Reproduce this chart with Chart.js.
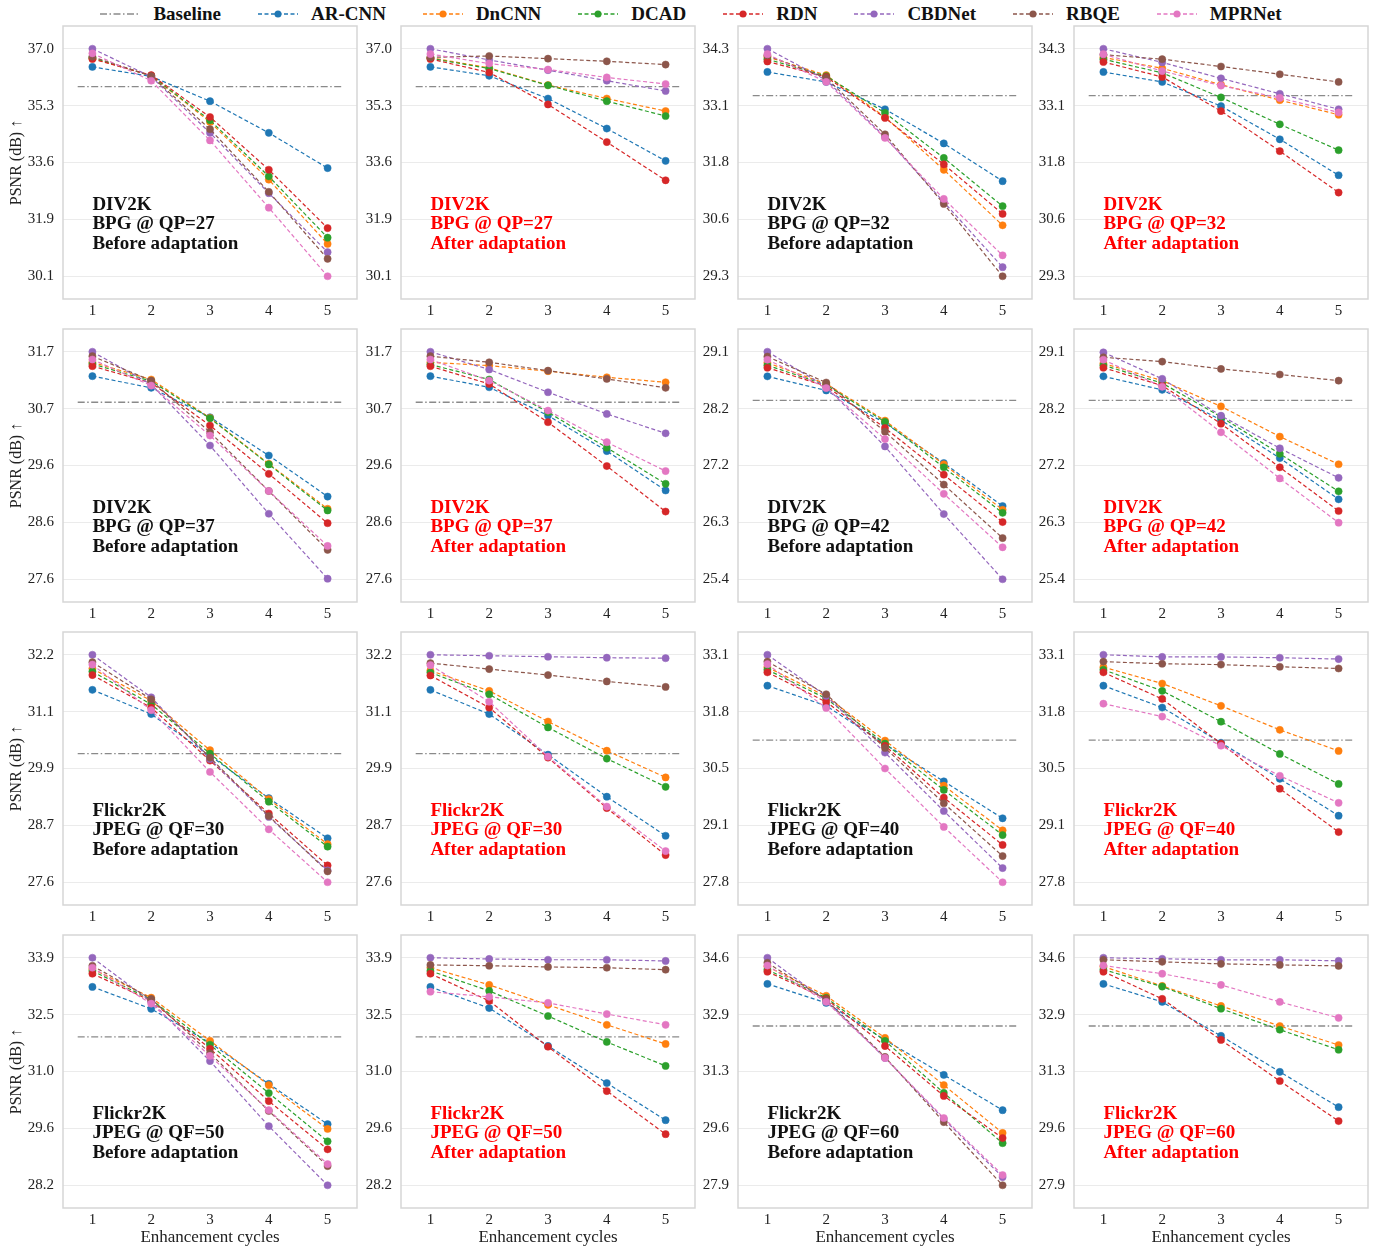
<!DOCTYPE html>
<html>
<head>
<meta charset="utf-8">
<script src="https://cdn.jsdelivr.net/npm/chart.js@4.4.0/dist/chart.umd.min.js"></script>
<style>
  body { margin: 0; background: #fff; }
  #page { position: relative; width: 1382px; height: 1249px; overflow: hidden; }
  canvas { position: absolute; }
  #legend { position: absolute; left: 0; top: 1px; width: 1382px; height: 26px;
            display: flex; justify-content: center; align-items: center;
            font: bold 19px "Liberation Serif", "Times New Roman", serif; color: #111; }
  .item { display: flex; align-items: center; margin: 0 18.5px; }
  .item svg { margin-right: 13px; }
</style>
</head>
<body>
<div id="page"><div id="legend"></div></div>
<script>
// x values and series names
const cycles = [1, 2, 3, 4, 5];
const methods = ['AR-CNN', 'DnCNN', 'DCAD', 'RDN', 'CBDNet', 'RBQE', 'MPRNet'];

// PSNR (dB) per method, rows follow the order of `methods`
const qp27Before = [
  [36.45, 36.16, 35.41, 34.45, 33.38],
  [36.71, 36.18, 34.78, 33.03, 31.08],
  [36.73, 36.18, 34.83, 33.13, 31.27],
  [36.69, 36.20, 34.93, 33.33, 31.56],
  [37.00, 36.15, 34.45, 32.62, 30.83],
  [36.76, 36.17, 34.56, 32.66, 30.63],
  [36.86, 36.03, 34.22, 32.18, 30.10]
];
const qp27After = [
  [36.45, 36.18, 35.49, 34.58, 33.60],
  [36.73, 36.42, 35.90, 35.49, 35.11],
  [36.71, 36.40, 35.89, 35.41, 34.96],
  [36.69, 36.28, 35.31, 34.17, 33.01],
  [37.00, 36.66, 36.35, 36.03, 35.72],
  [36.74, 36.78, 36.70, 36.62, 36.52],
  [36.84, 36.55, 36.37, 36.13, 35.93]
];
const qp32Before = [
  [33.79, 33.57, 32.97, 32.22, 31.39],
  [34.12, 33.72, 32.80, 31.64, 30.42],
  [34.07, 33.70, 32.89, 31.90, 30.84],
  [34.02, 33.68, 32.78, 31.76, 30.67],
  [34.30, 33.61, 32.36, 30.93, 29.50],
  [34.15, 33.66, 32.42, 30.89, 29.30],
  [34.18, 33.57, 32.34, 31.00, 29.76]
];
const qp32After = [
  [33.79, 33.57, 33.04, 32.31, 31.52],
  [34.11, 33.87, 33.51, 33.17, 32.85],
  [34.07, 33.77, 33.23, 32.64, 32.07],
  [34.01, 33.68, 32.93, 32.05, 31.14],
  [34.30, 34.00, 33.65, 33.31, 32.97],
  [34.17, 34.07, 33.91, 33.74, 33.57],
  [34.18, 33.81, 33.49, 33.22, 32.90]
];
const qp37Before = [
  [31.26, 31.05, 30.52, 29.83, 29.09],
  [31.51, 31.20, 30.51, 29.68, 28.87],
  [31.48, 31.17, 30.50, 29.67, 28.84],
  [31.44, 31.14, 30.37, 29.50, 28.61],
  [31.70, 31.11, 30.01, 28.78, 27.61],
  [31.62, 31.18, 30.25, 29.19, 28.13],
  [31.56, 31.09, 30.19, 29.19, 28.20]
];
const qp37After = [
  [31.26, 31.06, 30.55, 29.91, 29.20],
  [31.51, 31.45, 31.35, 31.24, 31.15],
  [31.47, 31.20, 30.61, 29.97, 29.32],
  [31.44, 31.12, 30.43, 29.64, 28.82],
  [31.70, 31.38, 30.97, 30.58, 30.23],
  [31.62, 31.51, 31.36, 31.21, 31.05],
  [31.56, 31.18, 30.64, 30.07, 29.55]
];
const qp42Before = [
  [28.70, 28.47, 27.94, 27.29, 26.59],
  [28.92, 28.58, 27.98, 27.27, 26.53],
  [28.88, 28.56, 27.96, 27.22, 26.48],
  [28.84, 28.54, 27.86, 27.10, 26.33],
  [29.10, 28.53, 27.56, 26.46, 25.40],
  [29.02, 28.60, 27.80, 26.94, 26.07],
  [28.97, 28.51, 27.68, 26.79, 25.92]
];
const qp42After = [
  [28.70, 28.48, 27.99, 27.37, 26.70],
  [28.91, 28.63, 28.21, 27.72, 27.27],
  [28.88, 28.59, 28.04, 27.44, 26.83],
  [28.84, 28.55, 27.93, 27.22, 26.51],
  [29.09, 28.66, 28.06, 27.53, 27.05],
  [29.01, 28.94, 28.82, 28.73, 28.63],
  [28.97, 28.53, 27.79, 27.04, 26.32]
];
const qf30Before = [
  [31.49, 31.00, 30.16, 29.30, 28.49],
  [31.92, 31.27, 30.27, 29.28, 28.37],
  [31.86, 31.20, 30.20, 29.23, 28.32],
  [31.79, 31.13, 30.06, 28.99, 27.94],
  [32.20, 31.34, 30.09, 28.92, 27.84],
  [32.05, 31.30, 30.12, 28.94, 27.82],
  [32.00, 31.08, 29.83, 28.67, 27.60]
];
const qf30After = [
  [31.49, 31.00, 30.18, 29.33, 28.54],
  [31.88, 31.47, 30.85, 30.26, 29.72],
  [31.84, 31.40, 30.73, 30.10, 29.53],
  [31.78, 31.13, 30.12, 29.10, 28.15],
  [32.20, 32.18, 32.16, 32.14, 32.13],
  [32.03, 31.91, 31.79, 31.66, 31.55],
  [31.99, 31.25, 30.14, 29.13, 28.23]
];
const qf40Before = [
  [32.38, 31.91, 31.02, 30.15, 29.29],
  [32.81, 32.13, 31.10, 30.05, 29.01],
  [32.75, 32.08, 31.03, 29.95, 28.90],
  [32.69, 32.00, 30.98, 29.77, 28.67],
  [33.10, 32.14, 30.82, 29.46, 28.13],
  [32.94, 32.18, 30.93, 29.64, 28.41],
  [32.88, 31.86, 30.45, 29.09, 27.80]
];
const qf40After = [
  [32.38, 31.87, 31.05, 30.21, 29.35],
  [32.81, 32.43, 31.91, 31.35, 30.86],
  [32.75, 32.26, 31.54, 30.79, 30.09],
  [32.69, 32.07, 31.03, 29.98, 28.97],
  [33.10, 33.05, 33.05, 33.03, 33.00],
  [32.94, 32.89, 32.87, 32.82, 32.78],
  [31.96, 31.66, 30.98, 30.28, 29.65]
];
const qf50Before = [
  [33.17, 32.62, 31.77, 30.74, 29.73],
  [33.62, 32.90, 31.82, 30.71, 29.61],
  [33.57, 32.85, 31.72, 30.51, 29.30],
  [33.50, 32.82, 31.62, 30.31, 29.10],
  [33.90, 32.80, 31.31, 29.68, 28.20],
  [33.70, 32.87, 31.51, 30.06, 28.68],
  [33.65, 32.75, 31.44, 30.08, 28.73]
];
const qf50After = [
  [33.17, 32.64, 31.69, 30.76, 29.83],
  [33.65, 33.22, 32.72, 32.22, 31.74],
  [33.57, 33.07, 32.44, 31.79, 31.19],
  [33.50, 32.82, 31.67, 30.56, 29.48],
  [33.90, 33.87, 33.85, 33.85, 33.82],
  [33.72, 33.70, 33.67, 33.65, 33.60],
  [33.05, 32.92, 32.77, 32.49, 32.22]
];
const qf60Before = [
  [33.83, 33.27, 32.18, 31.15, 30.11],
  [34.34, 33.48, 32.24, 30.85, 29.44],
  [34.25, 33.42, 32.15, 30.62, 29.14],
  [34.19, 33.39, 32.00, 30.53, 29.29],
  [34.60, 33.33, 31.65, 29.85, 28.14],
  [34.45, 33.36, 31.68, 29.76, 27.90],
  [34.37, 33.30, 31.65, 29.88, 28.20]
];
const qf60After = [
  [33.83, 33.30, 32.30, 31.24, 30.20],
  [34.34, 33.77, 33.18, 32.59, 32.03],
  [34.25, 33.75, 33.10, 32.48, 31.89],
  [34.19, 33.39, 32.18, 30.97, 29.79],
  [34.60, 34.57, 34.54, 34.54, 34.51],
  [34.54, 34.48, 34.42, 34.39, 34.36],
  [34.37, 34.13, 33.80, 33.30, 32.83]
];

// baseline PSNR of the compressed input, one per setting
const baselineQP = [35.85, 33.27, 30.79, 28.31];
const baselineQF = [30.20, 31.11, 31.92, 32.59];

// y tick labels, bottom to top (evenly spaced)
const ticksQP27 = ['30.1', '31.9', '33.6', '35.3', '37.0'];
const ticksQP32 = ['29.3', '30.6', '31.8', '33.1', '34.3'];
const ticksQP37 = ['27.6', '28.6', '29.6', '30.7', '31.7'];
const ticksQP42 = ['25.4', '26.3', '27.2', '28.2', '29.1'];
const ticksQF30 = ['27.6', '28.7', '29.9', '31.1', '32.2'];
const ticksQF40 = ['27.8', '29.1', '30.5', '31.8', '33.1'];
const ticksQF50 = ['28.2', '29.6', '31.0', '32.5', '33.9'];
const ticksQF60 = ['27.9', '29.6', '31.3', '32.9', '34.6'];

const colors = ['#1f77b4', '#ff7f0e', '#2ca02c', '#d62728', '#9467bd', '#8c564b', '#e377c2'];
const baseColor = '#8a8a8a';
const FONT = '"Liberation Serif", "Times New Roman", serif';

const panels = [
  [qp27Before, ticksQP27, baselineQP[0], 'DIV2K', 'BPG @ QP=27', false],
  [qp27After, ticksQP27, baselineQP[0], 'DIV2K', 'BPG @ QP=27', true],
  [qp32Before, ticksQP32, baselineQP[1], 'DIV2K', 'BPG @ QP=32', false],
  [qp32After, ticksQP32, baselineQP[1], 'DIV2K', 'BPG @ QP=32', true],
  [qp37Before, ticksQP37, baselineQP[2], 'DIV2K', 'BPG @ QP=37', false],
  [qp37After, ticksQP37, baselineQP[2], 'DIV2K', 'BPG @ QP=37', true],
  [qp42Before, ticksQP42, baselineQP[3], 'DIV2K', 'BPG @ QP=42', false],
  [qp42After, ticksQP42, baselineQP[3], 'DIV2K', 'BPG @ QP=42', true],
  [qf30Before, ticksQF30, baselineQF[0], 'Flickr2K', 'JPEG @ QF=30', false],
  [qf30After, ticksQF30, baselineQF[0], 'Flickr2K', 'JPEG @ QF=30', true],
  [qf40Before, ticksQF40, baselineQF[1], 'Flickr2K', 'JPEG @ QF=40', false],
  [qf40After, ticksQF40, baselineQF[1], 'Flickr2K', 'JPEG @ QF=40', true],
  [qf50Before, ticksQF50, baselineQF[2], 'Flickr2K', 'JPEG @ QF=50', false],
  [qf50After, ticksQF50, baselineQF[2], 'Flickr2K', 'JPEG @ QF=50', true],
  [qf60Before, ticksQF60, baselineQF[3], 'Flickr2K', 'JPEG @ QF=60', false],
  [qf60After, ticksQF60, baselineQF[3], 'Flickr2K', 'JPEG @ QF=60', true]
];

// plot-area placement of the grid
const colLeft = [63, 401, 738, 1074];
const rowTop = [26, 329, 632, 935];
const plotW = 294, plotH = 273;

// frame around the plot area + dataset / codec / stage text
const panelDecor = {
  id: 'panelDecor',
  afterDatasetsDraw(chart, args, opts) {
    const { ctx, chartArea: a } = chart;
    ctx.save();
    ctx.strokeStyle = '#d6d6d6';
    ctx.lineWidth = 1.5;
    ctx.strokeRect(a.left, a.top, a.width, a.height);
    ctx.font = 'bold 19px ' + FONT;
    ctx.fillStyle = opts.color;
    ctx.textBaseline = 'middle';
    opts.lines.forEach((t, k) => ctx.fillText(t, a.left + 0.1 * a.width, a.top + 179 + k * 19.5));
    ctx.restore();
  }
};

const page = document.getElementById('page');

panels.forEach(([vals, labels, base, set, codec, after], p) => {
  const row = Math.floor(p / 4), col = p % 4;
  const yw = col === 0 ? 63 : 45;
  const xh = row === 3 ? 41 : 26;
  const canvas = document.createElement('canvas');
  canvas.width = yw + plotW + 4;
  canvas.height = 4 + plotH + xh;
  canvas.style.left = (colLeft[col] - yw) + 'px';
  canvas.style.top = (rowTop[row] - 4) + 'px';
  page.appendChild(canvas);

  const lo = parseFloat(labels[0]), hi = parseFloat(labels[labels.length - 1]);
  const step = (hi - lo) / (labels.length - 1);

  const datasets = methods.map((name, i) => ({
    label: name,
    data: cycles.map((c, k) => ({ x: c, y: vals[i][k] })),
    borderColor: colors[i],
    backgroundColor: colors[i],
    pointBackgroundColor: colors[i],
    pointBorderColor: colors[i],
    borderWidth: 1.2,
    borderDash: [4, 2.5],
    pointRadius: 3.6,
    pointBorderWidth: 0.5,
    tension: 0,
    order: methods.length - i
  }));
  datasets.push({
    label: 'Baseline',
    data: [{ x: 0.75, y: base }, { x: 5.25, y: base }],
    borderColor: baseColor,
    borderWidth: 1.3,
    borderDash: [7, 2.5, 1.5, 2.5],
    pointRadius: 0,
    order: 20
  });

  new Chart(canvas, {
    type: 'line',
    data: { datasets },
    plugins: [panelDecor],
    options: {
      responsive: false,
      animation: false,
      layout: { autoPadding: false, padding: { top: 4, right: 4, left: 0, bottom: 0 } },
      plugins: {
        legend: { display: false },
        tooltip: { enabled: false },
        panelDecor: {
          lines: [set, codec, after ? 'After adaptation' : 'Before adaptation'],
          color: after ? '#ff0000' : '#111111'
        }
      },
      scales: {
        x: {
          type: 'linear', min: 0.5, max: 5.5,
          afterBuildTicks: s => { s.ticks = cycles.map(v => ({ value: v })); },
          afterFit: s => { s.height = xh; s.paddingLeft = 0; s.paddingRight = 0; },
          grid: { display: false, drawTicks: false },
          border: { display: false },
          ticks: { padding: 3, color: '#222', font: { family: FONT, size: 15 }, callback: v => String(v) },
          title: {
            display: row === 3, text: 'Enhancement cycles', color: '#222',
            font: { family: FONT, size: 17 }, padding: { top: 0, bottom: 1 }
          }
        },
        y: {
          min: lo - 0.4 * step, max: hi + 0.4 * step,
          afterBuildTicks: s => { s.ticks = labels.map((l, i) => ({ value: lo + i * step })); },
          afterFit: s => { s.width = yw; s.paddingTop = 0; s.paddingBottom = 0; },
          grid: { color: '#ebebeb', lineWidth: 1, drawTicks: false },
          border: { display: false },
          ticks: { padding: 9, color: '#222', font: { family: FONT, size: 15 }, callback: (v, i) => labels[i] },
          title: {
            display: col === 0, text: 'PSNR (dB) ↑', color: '#222',
            font: { family: FONT, size: 16 }, padding: { top: 7, bottom: 0 }
          }
        }
      }
    }
  });
});

// legend row across the top
const legend = document.getElementById('legend');
const legendItems = [{ name: 'Baseline', color: baseColor, base: true }]
  .concat(methods.map((m, i) => ({ name: m, color: colors[i], base: false })));
legendItems.forEach(it => {
  const div = document.createElement('div');
  div.className = 'item';
  const line = it.base
    ? `<line x1="0" y1="6" x2="40" y2="6" stroke="${it.color}" stroke-width="1.5" stroke-dasharray="7 2.5 1.5 2.5"/>`
    : `<line x1="0" y1="6" x2="40" y2="6" stroke="${it.color}" stroke-width="1.3" stroke-dasharray="4 2.5"/>` +
      `<circle cx="20" cy="6" r="3.5" fill="${it.color}"/>`;
  div.innerHTML = `<svg width="40" height="12">${line}</svg><span>${it.name}</span>`;
  legend.appendChild(div);
});
</script>
</body>
</html>
